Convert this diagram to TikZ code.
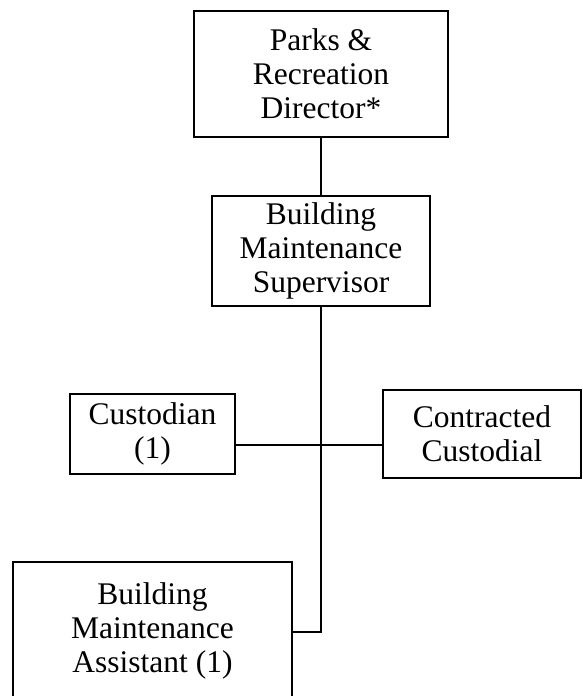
\documentclass[tikz,border=0pt]{standalone}
\usepackage{fontspec}
\setmainfont{Liberation Serif}
\begin{document}
\begin{tikzpicture}[x=1pt,y=-1pt,
  box/.style={draw, line width=2.5pt, inner sep=0pt, align=center,
    font=\fontsize{31.5}{34}\selectfont},
  conn/.style={line width=2.5pt}]
\useasboundingbox (0,0) rectangle (582,696);
\node[box, minimum width=254pt, minimum height=126pt] (dir) at (321,74) {Parks \&\\Recreation\\Director*};
\node[box, minimum width=218pt, minimum height=110pt] (sup) at (321,251) {Building\\Maintenance\\Supervisor};
\node[box, minimum width=165pt, minimum height=80pt] (cust) at (152.5,434) {Custodian\\(1)};
\node[box, minimum width=198pt, minimum height=88pt] (contr) at (482,434) {Contracted\\Custodial};
\node[box, minimum width=279pt, minimum height=138pt] (asst) at (152.5,631) {Building\\Maintenance\\Assistant (1)};
\coordinate (hj) at (321,445);
\coordinate (elb) at (321,632);
\draw[conn] (dir.south) -- (sup.north);
\draw[conn] (sup.south) -- (elb) -- (asst.east |- elb);
\draw[conn] (cust.east |- hj) -- (contr.west |- hj);
\end{tikzpicture}
\end{document}
